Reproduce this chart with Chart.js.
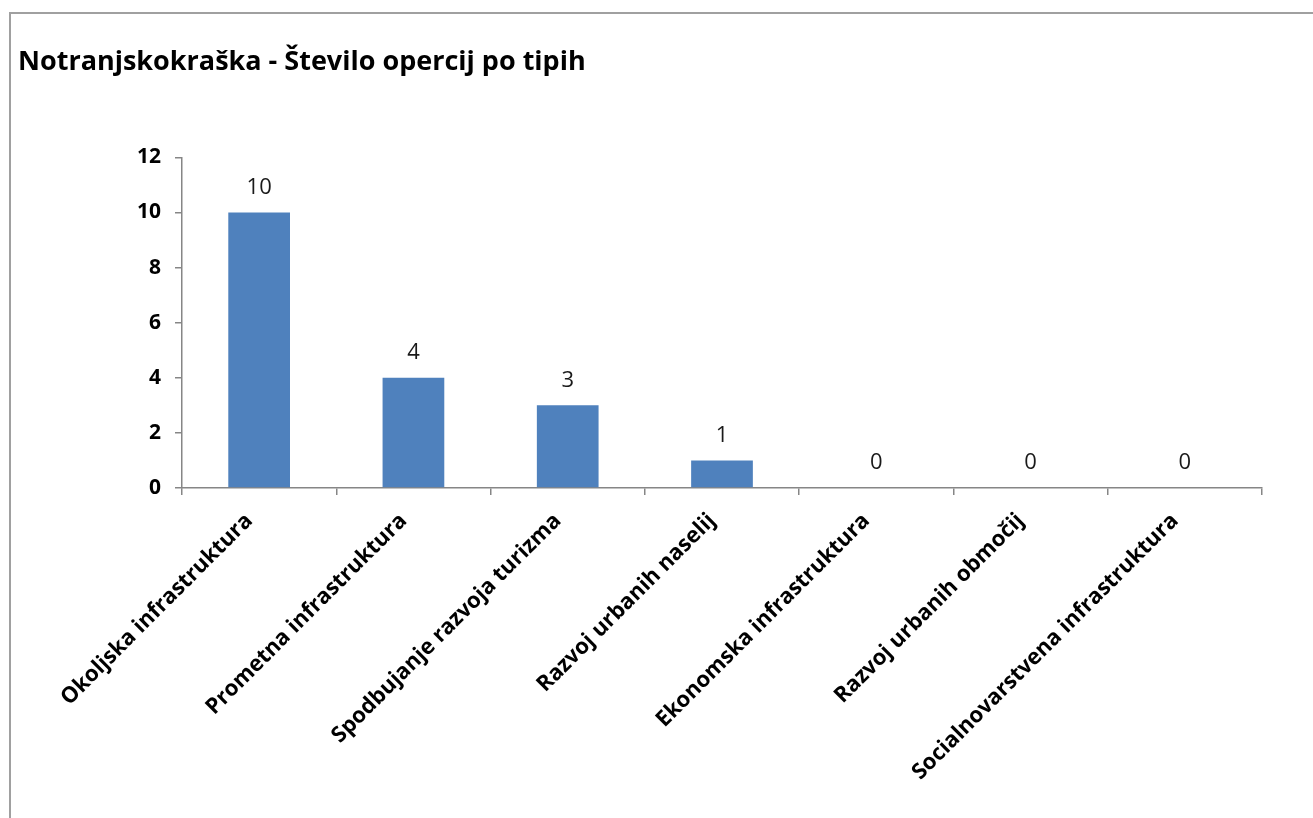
<!DOCTYPE html>
<html>
<head>
<meta charset="utf-8">
<script src="https://cdn.jsdelivr.net/npm/chart.js@4"></script>
<style>
  html, body { margin: 0; padding: 0; background: #fff; overflow: hidden; }
  #frame {
    position: absolute; left: 9px; top: 12px; width: 1304px; height: 806px;
    border-left: 2px solid #a0a0a0; border-top: 2px solid #a0a0a0;
  }
  #wrap { position: absolute; left: 0; top: 0; width: 1302px; height: 804px; }
</style>
</head>
<body>
<div id="frame"><div id="wrap"><canvas id="chart"></canvas></div></div>
<script>
const categories = [
  'Okoljska infrastruktura',
  'Prometna infrastruktura',
  'Spodbujanje razvoja turizma',
  'Razvoj urbanih naselij',
  'Ekonomska infrastruktura',
  'Razvoj urbanih območij',
  'Socialnovarstvena infrastruktura',
]
const counts = [10, 4, 3, 1, 0, 0, 0]
const yTicks = [0, 2, 4, 6, 8, 10, 12]

// draw the value above each bar
const valueLabels = {
  id: 'valueLabels',
  afterDatasetsDraw(chart) {
    const ctx = chart.ctx
    const meta = chart.getDatasetMeta(0)
    ctx.save()
    ctx.font = '22px "Open Sans"'
    ctx.fillStyle = '#1a1a1a'
    ctx.textAlign = 'center'
    ctx.textBaseline = 'middle'
    meta.data.forEach((bar, i) => {
      ctx.fillText(String(counts[i]), bar.x, bar.y - 25)
    })
    ctx.restore()
  },
}

const ctx = document.getElementById('chart').getContext('2d')
const myChart = new Chart(ctx, {
  type: 'bar',
  data: {
    labels: categories,
    datasets: [
      {
        data: counts,
        backgroundColor: '#4F81BD',
        borderWidth: 0,
        barPercentage: 0.8,
        categoryPercentage: 0.5,
      },
    ],
  },
  plugins: [valueLabels],
  options: {
    responsive: true,
    maintainAspectRatio: false,
    animation: false,
    layout: { padding: { left: 7, right: 51, top: 0, bottom: 0 } },
    plugins: {
      legend: { display: false },
      tooltip: { enabled: false },
      title: {
        display: true,
        text: 'Notranjskokraška - Število opercij po tipih',
        align: 'start',
        color: '#000',
        font: { family: 'Open Sans', size: 27, weight: 'bold' },
        padding: { top: 32, bottom: 79 },
      },
    },
    scales: {
      x: {
        afterFit(scale) { scale.height = 330 },
        border: { color: '#868686', width: 1.5 },
        grid: {
          offset: true,
          drawOnChartArea: false,
          tickLength: 7,
          color: '#868686',
          lineWidth: 1.5,
        },
        ticks: {
          maxRotation: 45,
          minRotation: 45,
          padding: 13,
          labelOffset: -10,
          color: '#000',
          font: { family: 'Open Sans', size: 22, weight: 'bold' },
        },
      },
      y: {
        min: 0,
        max: 12,
        afterFit(scale) { scale.width = 164 },
        afterBuildTicks(scale) { scale.ticks = yTicks.map((v) => ({ value: v })) },
        border: { color: '#868686', width: 1.5 },
        grid: {
          drawOnChartArea: false,
          tickLength: 7,
          color: '#868686',
          lineWidth: 1.5,
        },
        ticks: {
          padding: 14,
          color: '#000',
          font: { family: 'Open Sans', size: 21, weight: 'bold' },
        },
      },
    },
  },
})
</script>
</body>
</html>
